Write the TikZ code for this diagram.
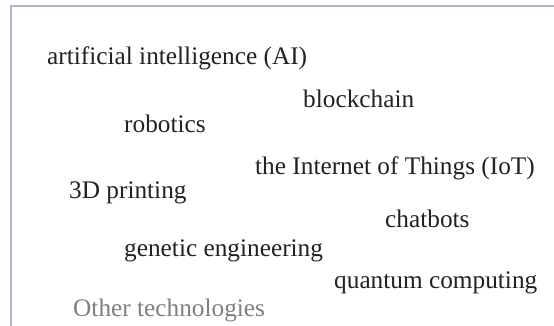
\documentclass[tikz,border=0pt]{standalone}
\usepackage{fontspec}
\setmainfont{Liberation Serif}
\definecolor{framec}{HTML}{A9B9CB}
\definecolor{txt}{HTML}{222222}
\definecolor{greytxt}{HTML}{7F7F7F}
\begin{document}
\begin{tikzpicture}[x=1pt,y=-1pt,
  lbl/.style={anchor=base west,inner sep=0pt,text=txt,font=\fontsize{25.3}{29}\selectfont},
  other/.style={lbl,text=greytxt}]
\useasboundingbox (0,0) rectangle (554,326);
\fill[white] (0,0) rectangle (554,326);
\coordinate (tr) at (554,6.5);
\coordinate (tl) at (10.5,6.5);
\coordinate (bl) at (10.5,326);
\draw[framec,line width=2pt] (tr) -- (tl) -- (bl);
\node[lbl] (ai) at (47,65) {artificial intelligence (AI)};
\node[lbl] (bc) at (303,108) {blockchain};
\node[lbl] (rob) at (124,132) {robotics};
\node[lbl] (iot) at (255,174) {the Internet of Things (IoT)};
\node[lbl] (pr) at (69,198) {3D printing};
\node[lbl] (cb) at (385,227) {chatbots};
\node[lbl] (ge) at (124,256) {genetic engineering};
\node[lbl] (qc) at (334,288) {quantum computing};
\node[other] (ot) at (73,316) {Other technologies};
\end{tikzpicture}
\end{document}
